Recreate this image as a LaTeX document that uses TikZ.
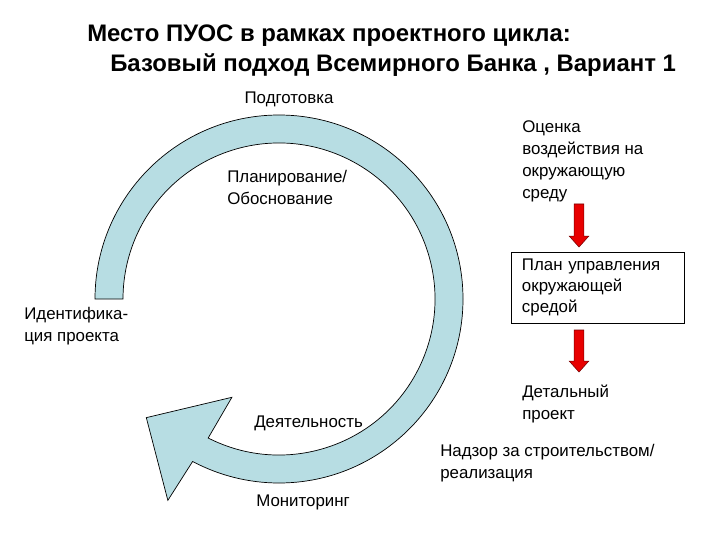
\documentclass[tikz,border=0pt]{standalone}
\usepackage{fontspec}
\setmainfont{Liberation Sans}
\usetikzlibrary{calc}
\definecolor{cyclefill}{RGB}{183,221,227}
\definecolor{arrowred}{RGB}{232,0,0}
\definecolor{arrowedge}{RGB}{120,0,0}
\tikzset{
  labeltext/.style={anchor=west, align=left, inner sep=0pt, font=\fontsize{12}{15.5}\selectfont},
  titletext/.style={anchor=base west, inner sep=0pt, font=\fontsize{17}{20}\selectfont\bfseries},
  redarrow/.style={fill=arrowred, draw=arrowedge, line width=0.4pt,
    to path={let \p1=(\tikztostart), \p2=(\tikztotarget) in
      (\x1-3.5pt,\y1) -- (\x1+3.5pt,\y1) -- (\x1+3.5pt,\y2+7.8pt) -- (\x1+7pt,\y2+7.8pt)
      -- (\x1,\y2) -- (\x1-7pt,\y2+7.8pt) -- (\x1-3.5pt,\y2+7.8pt) -- cycle}}
}
\begin{document}
\begin{tikzpicture}[x=0.025cm, y=0.025cm]
    \useasboundingbox[fill=white] (0,0) rectangle (720,540);
    % cycle arrow
    \begin{scope}[shift={(279,241)}]
        \draw[fill=cyclefill, line width=0.5pt] (180:184) arc[start angle=180, end angle=-118, radius=184]
            -- (-118.9:230) -- (-138.2:178) -- (-115.6:109) -- (-117:156)
            arc[start angle=-117, end angle=180, radius=156] -- cycle;
    \end{scope}
    % title
    \node[titletext] (title1) at (87,498) {Место ПУОС в рамках проектного цикла:};
    \node[titletext] (title2) at (110,468) {Базовый подход Всемирного Банка , Вариант 1};
    % stages
    \node[labeltext, anchor=center] (prep) at (289,441) {Подготовка};
    \node[labeltext] (planning) at (227,352.5) {Планирование/\\Обоснование};
    \node[labeltext] (ident) at (24,214) {Идентифика-\\ция проекта};
    \node[labeltext] (activ) at (254,117) {Деятельность};
    \node[labeltext] (monit) at (256,38) {Мониторинг};
    \node[labeltext] (supervis) at (440,77) {Надзор за строительством/\\реализация};
    % environmental chain
    \node[labeltext] (eia) at (522,378.5) {Оценка\\воздействия на\\окружающую\\среду};
    \node[draw, line width=0.5pt, align=left, text width=3.775cm, inner xsep=0.275cm,
          minimum height=1.775cm, font=\fontsize{12}{15}\selectfont] (emp) at (597.5,252.5)
          {План управления\\окружающей\\средой};
    \node[labeltext] (design) at (522,136) {Детальный\\проект};
    \coordinate (a1s) at (579,336);
    \coordinate (a1e) at (579,293);
    \coordinate (a2s) at (579,210);
    \coordinate (a2e) at (579,168);
    \draw[redarrow] (a1s) to (a1e);
    \draw[redarrow] (a2s) to (a2e);
\end{tikzpicture}
\end{document}
